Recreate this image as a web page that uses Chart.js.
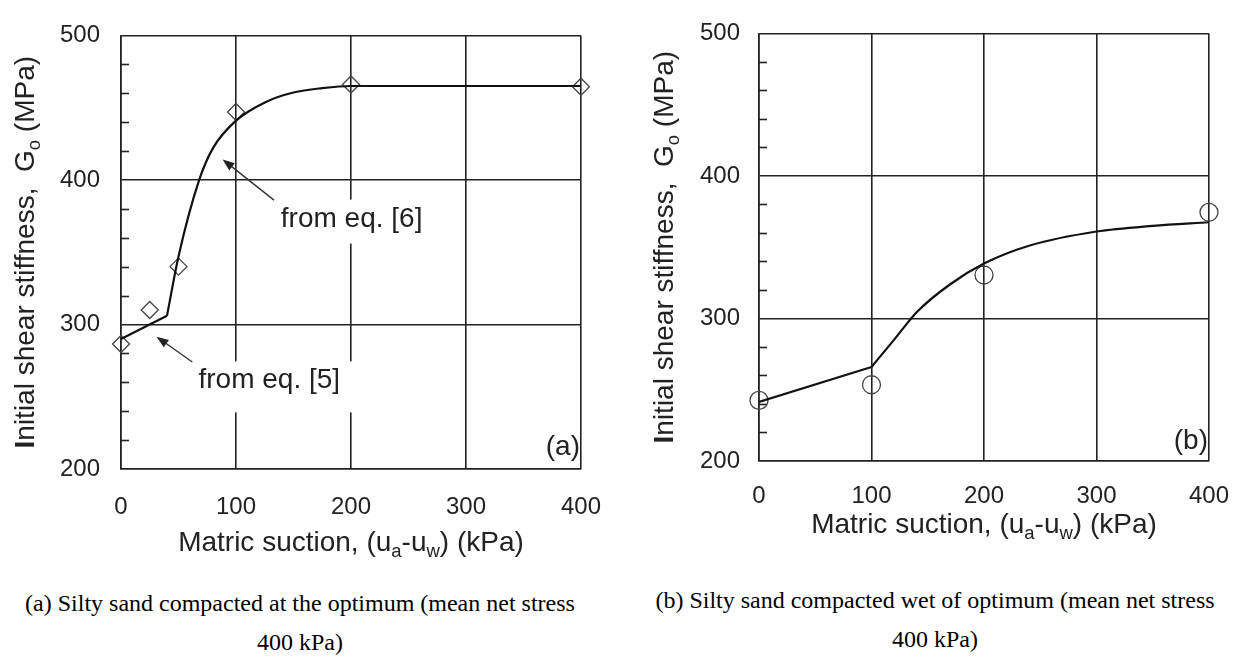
<!DOCTYPE html>
<html>
<head>
<meta charset="utf-8">
<title>Initial shear stiffness vs matric suction</title>
<script src="https://cdn.jsdelivr.net/npm/chart.js@4.4.1/dist/chart.umd.min.js"></script>
<style>
    body { margin: 0; background: #fff; width: 1250px; height: 660px; overflow: hidden; position: relative; }
    canvas { position: absolute; top: 0; }
    .caption {
        position: absolute;
        width: 640px;
        font-family: "Liberation Serif", "Times New Roman", serif;
        font-size: 24px;
        line-height: 39px;
        color: #000;
        text-align: center;
        white-space: nowrap;
    }
</style>
</head>
<body>
<canvas id="chartA" width="625" height="580" style="left:0"></canvas>
<canvas id="chartB" width="625" height="580" style="left:625px"></canvas>
<div class="caption" style="left:-20px; top:584px">(a) Silty sand compacted at the optimum (mean net stress<br>400 kPa)</div>
<div class="caption" style="left:615px; top:581px">(b) Silty sand compacted wet of optimum (mean net stress<br>400 kPa)</div>

<script>
// axis ticks
const suctionTicks = [0, 100, 200, 300, 400];
const stiffnessTicks = [200, 300, 400, 500];
const stiffnessMinorStep = 20;

// (a) compacted at the optimum: measured points (diamonds)
const suctionA = [0, 25, 50, 100, 200, 400];
const stiffnessA = [286.5, 310, 340, 447, 466, 464.5];
// straight part of the fit (eq. [5]) and curved part (eq. [6])
const eq5SuctionA = [0, 40];
const eq5StiffnessA = [290, 306];
const eq6SuctionA = [40, 50, 68, 80, 100, 126, 150, 175, 200, 300, 400];
const eq6StiffnessA = [306, 347, 400, 422, 441, 454, 460.5, 463.5, 465, 465, 465];

// (b) compacted wet of optimum: measured points (circles)
const suctionB = [0, 100, 200, 400];
const stiffnessB = [242.5, 253.5, 330.5, 374.5];
const eq5SuctionB = [0, 100];
const eq5StiffnessB = [241.5, 266];
const eq6SuctionB = [100, 120, 141, 170, 200, 240, 300, 350, 400];
const eq6StiffnessB = [266, 285, 305, 324, 338.5, 351, 361, 365, 367.5];

const FONT = "'Liberation Sans', Arial, Helvetica, sans-serif";
const INK = "#222";

const yTitleParts = [
    { t: "I", bold: true },
    { t: "nitial shear stiffness,  G" },
    { t: "o", sub: true },
    { t: " (MPa)" }
];
const xTitleParts = [
    { t: "Matric suction, (u" },
    { t: "a", sub: true },
    { t: "-u" },
    { t: "w", sub: true },
    { t: ") (kPa)" }
];

function toXY(xs, ys) {
    return xs.map((x, i) => ({ x: x, y: ys[i] }));
}

// draws a string made of normal / bold / subscript pieces, centred on cx
function drawRich(ctx, parts, cx, baseline, size, rotate) {
    const fontOf = p => (p.bold ? "bold " : "") + (p.sub ? size * 0.66 : size) + "px " + FONT;
    ctx.save();
    ctx.translate(cx, baseline);
    if (rotate) ctx.rotate(-Math.PI / 2);
    ctx.fillStyle = INK;
    ctx.textAlign = "left";
    ctx.textBaseline = "alphabetic";
    let w = 0;
    parts.forEach(p => { ctx.font = fontOf(p); w += ctx.measureText(p.t).width; });
    let x = -w / 2;
    parts.forEach(p => {
        ctx.font = fontOf(p);
        ctx.fillText(p.t, x, p.sub ? size * 0.2 : 0);
        x += ctx.measureText(p.t).width;
    });
    ctx.restore();
}

function drawArrow(ctx, x0, y0, x1, y1) {
    const ang = Math.atan2(y1 - y0, x1 - x0);
    const len = 12, half = 4.5;
    const c = Math.cos(ang), s = Math.sin(ang);
    ctx.beginPath();
    ctx.moveTo(x0, y0);
    ctx.lineTo(x1 - c * len * 0.8, y1 - s * len * 0.8);
    ctx.stroke();
    ctx.beginPath();
    ctx.moveTo(x1, y1);
    ctx.lineTo(x1 - c * len + s * half, y1 - s * len - c * half);
    ctx.lineTo(x1 - c * len - s * half, y1 - s * len + c * half);
    ctx.closePath();
    ctx.fill();
}

// frame ticks, notes with arrows, axis titles and the panel tag
function decorPlugin(p) {
    return {
        id: "decor",
        beforeDatasetsDraw(chart) {
            const { ctx, chartArea: a, scales: { x, y } } = chart;
            ctx.save();
            ctx.strokeStyle = INK;
            ctx.lineWidth = 1.6;
            for (let v = y.min + stiffnessMinorStep; v < y.max; v += stiffnessMinorStep) {
                if (v % 100 === 0) continue;
                const py = Math.round(y.getPixelForValue(v)) + 0.5;
                ctx.beginPath();
                ctx.moveTo(a.left, py);
                ctx.lineTo(a.left + 8, py);
                ctx.stroke();
            }
            (p.notes || []).forEach(n => {
                ctx.font = "28px " + FONT;
                const tx = x.getPixelForValue(n.at[0]);
                const ty = y.getPixelForValue(n.at[1]);
                const tw = ctx.measureText(n.text).width;
                ctx.fillStyle = "#fff";
                ctx.fillRect(tx - 14, ty - n.boxUp, tw + 28, n.boxUp + n.boxDown);
                ctx.fillStyle = INK;
                ctx.textBaseline = "middle";
                ctx.textAlign = "left";
                ctx.fillText(n.text, tx, ty);
                ctx.strokeStyle = "#333";
                ctx.fillStyle = "#222";
                ctx.lineWidth = 1.4;
                drawArrow(ctx,
                    x.getPixelForValue(n.from[0]), y.getPixelForValue(n.from[1]),
                    x.getPixelForValue(n.to[0]), y.getPixelForValue(n.to[1]));
            });
            ctx.restore();
        },
        afterDraw(chart) {
            const { ctx, chartArea: a } = chart;
            drawRich(ctx, yTitleParts, p.yTitleX + 10, (a.top + a.bottom) / 2, 28, true);
            drawRich(ctx, xTitleParts, (a.left + a.right) / 2, p.xTitleBaseline, 28, false);
            ctx.save();
            ctx.font = "28px " + FONT;
            ctx.fillStyle = INK;
            ctx.textAlign = "right";
            ctx.textBaseline = "middle";
            ctx.fillText(p.tag, p.tagAt[0], p.tagAt[1]);
            ctx.restore();
        }
    };
}

function buildPanel(canvasId, p, series) {
    const [W, H] = p.size;
    const tickFont = { family: FONT, size: 24 };
    return new Chart(document.getElementById(canvasId), {
        type: "line",
        data: {
            datasets: [
                {
                    data: toXY(series.lowX, series.lowY),
                    borderColor: "#111", borderWidth: 2.2,
                    pointRadius: 0, tension: 0, fill: false
                },
                {
                    data: toXY(series.highX, series.highY),
                    borderColor: "#111", borderWidth: 2.2,
                    pointRadius: 0, cubicInterpolationMode: "monotone", fill: false
                },
                {
                    data: toXY(series.pointX, series.pointY),
                    showLine: false, clip: false,
                    pointStyle: p.marker, pointRadius: p.markerRadius,
                    pointBorderColor: "#444", pointBorderWidth: 1.3,
                    pointBackgroundColor: "rgba(0,0,0,0)"
                }
            ]
        },
        options: {
            responsive: false,
            animation: false,
            events: [],
            layout: {
                autoPadding: false,
                padding: { left: 0, top: p.area.top, right: W - p.area.right, bottom: 0 }
            },
            plugins: {
                legend: { display: false },
                tooltip: { enabled: false }
            },
            scales: {
                x: {
                    type: "linear", min: 0, max: 400,
                    afterBuildTicks: s => { s.ticks = suctionTicks.map(v => ({ value: v })); },
                    afterFit: s => { s.height = H - p.area.bottom; },
                    grid: { color: INK, lineWidth: 1.6, drawTicks: false },
                    border: { color: INK, width: 1.6 },
                    ticks: { color: INK, font: tickFont, padding: p.xTickPad, maxRotation: 0 }
                },
                y: {
                    type: "linear", min: 200, max: 500,
                    afterBuildTicks: s => { s.ticks = stiffnessTicks.map(v => ({ value: v })); },
                    afterFit: s => { s.width = p.area.left; },
                    grid: { color: INK, lineWidth: 1.6, drawTicks: false },
                    border: { color: INK, width: 1.6 },
                    ticks: { color: INK, font: tickFont, padding: p.yTickPad }
                }
            }
        },
        plugins: [decorPlugin(p)]
    });
}

buildPanel("chartA", {
    size: [625, 580],
    area: { left: 121, top: 24, right: 584, bottom: 469 },
    xTickPad: 24, yTickPad: 21,
    yTitleX: 24, xTitleBaseline: 551,
    tag: "(a)", tagAt: [580, 447],
    marker: "rectRot", markerRadius: 8.5,
    notes: [
        { text: "from eq. [6]", at: [139, 372.6], boxUp: 20, boxDown: 24, from: [133, 386], to: [88.4, 414.2] },
        { text: "from eq. [5]", at: [67.4, 261.3], boxUp: 19, boxDown: 32, from: [62, 274], to: [30.9, 291.5] }
    ]
}, {
    pointX: suctionA, pointY: stiffnessA,
    lowX: eq5SuctionA, lowY: eq5StiffnessA,
    highX: eq6SuctionA, highY: eq6StiffnessA
});

buildPanel("chartB", {
    size: [625, 580],
    area: { left: 134, top: 20, right: 590, bottom: 461 },
    xTickPad: 21, yTickPad: 19,
    yTitleX: 38, xTitleBaseline: 533,
    tag: "(b)", tagAt: [583, 441],
    marker: "circle", markerRadius: 9,
    notes: []
}, {
    pointX: suctionB, pointY: stiffnessB,
    lowX: eq5SuctionB, lowY: eq5StiffnessB,
    highX: eq6SuctionB, highY: eq6StiffnessB
});
</script>
</body>
</html>
